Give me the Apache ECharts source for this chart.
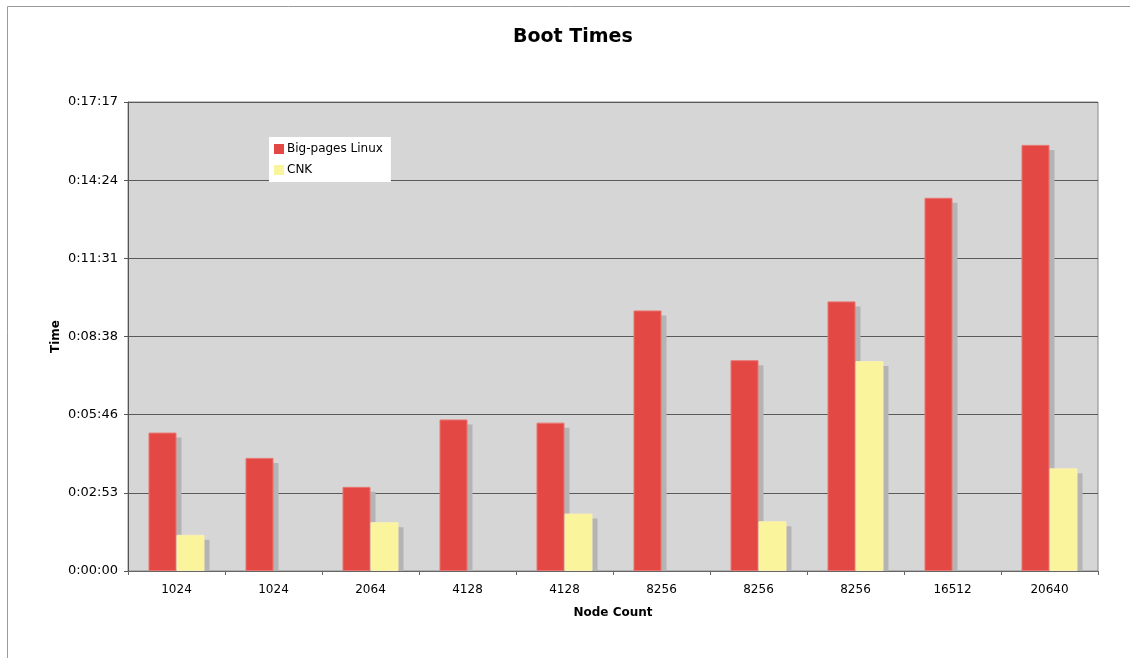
<!DOCTYPE html>
<html>
<head>
<meta charset="utf-8">
<title>Boot Times</title>
<script src="https://cdn.jsdelivr.net/npm/echarts@6/dist/echarts.min.js"></script>
<style>
  html, body { margin: 0; padding: 0; background: #ffffff; }
  #chart { width: 1130px; height: 658px; }
</style>
</head>
<body>
<div id="chart"></div>
<script>
// Node counts for each boot run
const nodeCounts = ['1024', '1024', '2064', '4128', '4128', '8256', '8256', '8256', '16512', '20640'];
// Boot times in seconds (null = no run)
const bigPagesLinux = [306, 250, 186, 335, 328, 576, 466, 596, 825, 942];
const cnk = [80, null, 108, null, 127, null, 110, 464, null, 227];
// Value-axis range in seconds (0.012 days, steps of 0.002 days)
const timeMax = 1036.8;
const timeStep = 172.8;

const BAR_W = 28;
const SHADOW = '#b4b4b4';
const FONT = 'DejaVu Sans';

function fmtTime(sec) {
  const s = Math.round(sec);
  const h = Math.floor(s / 3600);
  const m = Math.floor((s % 3600) / 60);
  const r = s % 60;
  return h + ':' + String(m).padStart(2, '0') + ':' + String(r).padStart(2, '0');
}

// Drop shadow behind each bar, offset right and down, stopping at the baseline
function shadowRenderer(offset) {
  return function (params, api) {
    const i = api.value(0), v = api.value(1);
    const top = api.coord([i, v]);
    const base = api.coord([i, 0]);
    const y = top[1] + 5;
    return {
      type: 'rect',
      shape: { x: top[0] + offset + 5, y: y, width: BAR_W, height: Math.max(0, base[1] - y) },
      style: { fill: SHADOW }
    };
  };
}
function pairs(arr) {
  const out = [];
  arr.forEach((v, i) => { if (v != null) out.push([i, v]); });
  return out;
}

const chart = echarts.init(document.getElementById('chart'), null, { renderer: 'canvas' });
chart.setOption({
  animation: false,
  backgroundColor: '#ffffff',
  textStyle: { fontFamily: FONT },
  graphic: [{
    type: 'rect', silent: true, z: -10,
    shape: { x: 7.5, y: 6.5, width: 1300, height: 1000 },
    style: { fill: 'none', stroke: '#9a9a9a', lineWidth: 1 }
  }, {
    type: 'text', left: 513, top: 28,
    style: { text: 'Boot Times', font: 'bold 19px "DejaVu Sans"', fill: '#000' }
  }],
  legend: {
    data: ['Big-pages Linux', 'CNK'],
    orient: 'vertical',
    left: 269, top: 137,
    backgroundColor: '#ffffff',
    padding: [6, 8, 6, 5],
    itemWidth: 10, itemHeight: 10, itemGap: 9,
    icon: 'rect',
    itemStyle: { borderWidth: 0 },
    textStyle: { fontFamily: FONT, fontSize: 12, color: '#000', padding: [0, 0, 0, -2] }
  },
  grid: {
    left: 128, right: 32, top: 102, bottom: 87,
    show: true, backgroundColor: '#d6d6d6', borderColor: '#8a8a8a', borderWidth: 1
  },
  xAxis: {
    type: 'category',
    data: nodeCounts,
    name: 'Node Count',
    nameLocation: 'middle',
    nameGap: 36,
    nameTextStyle: { fontFamily: FONT, fontWeight: 'bold', fontSize: 12, color: '#000' },
    axisLine: { lineStyle: { color: '#666', width: 1 } },
    axisTick: { show: true, length: 4, alignWithLabel: false, lineStyle: { color: '#666' } },
    axisLabel: { fontFamily: FONT, fontSize: 12, color: '#000', margin: 13 }
  },
  yAxis: {
    type: 'value',
    min: 0, max: timeMax, interval: timeStep,
    name: 'Time',
    nameLocation: 'middle',
    nameRotate: 90,
    nameGap: 66,
    nameMoveOverlap: false,
    nameTextStyle: { fontFamily: FONT, fontWeight: 'bold', fontSize: 12, color: '#000' },
    axisLine: { show: true, lineStyle: { color: '#555', width: 1 } },
    axisTick: { show: true, length: 4, lineStyle: { color: '#555' } },
    axisLabel: { fontFamily: FONT, fontSize: 13, color: '#000', margin: 10, formatter: fmtTime },
    splitLine: { show: true, lineStyle: { color: '#5a5a5a', width: 1 } }
  },
  series: [
    { type: 'custom', name: 'shadowLinux', data: pairs(bigPagesLinux), renderItem: shadowRenderer(-BAR_W), z: 1, silent: true },
    { type: 'custom', name: 'shadowCNK', data: pairs(cnk), renderItem: shadowRenderer(0), z: 1, silent: true },
    {
      type: 'bar', name: 'Big-pages Linux', data: bigPagesLinux, z: 2,
      barWidth: BAR_W, barGap: '0%',
      itemStyle: { color: '#e34844', borderColor: '#ea7470', borderWidth: 1 }
    },
    {
      type: 'bar', name: 'CNK', data: cnk, z: 3,
      barWidth: BAR_W, barGap: '0%',
      itemStyle: { color: '#faf49c', borderColor: '#fbf0b0', borderWidth: 1 }
    }
  ]
});
</script>
</body>
</html>
